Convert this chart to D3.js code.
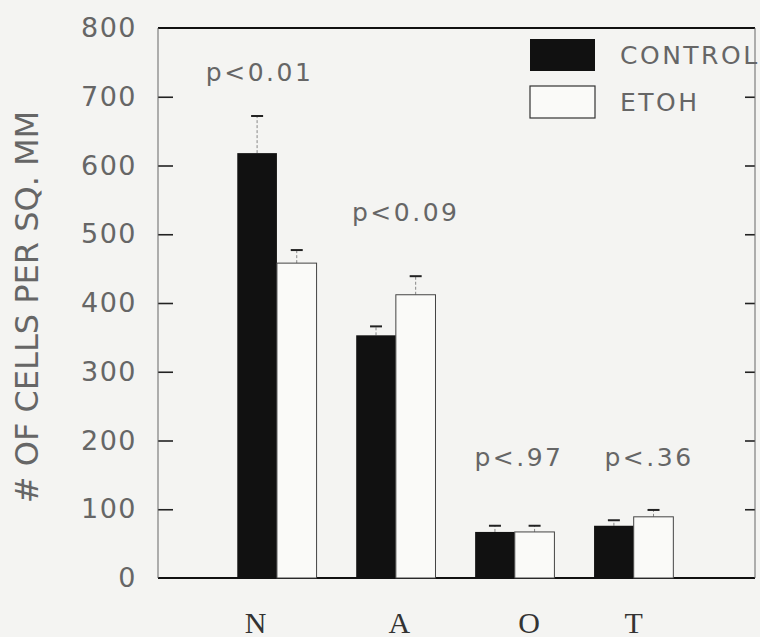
<!DOCTYPE html>
<html><head><meta charset="utf-8">
<script src="https://cdn.jsdelivr.net/npm/d3@7"></script>
<style>
html,body{margin:0;padding:0;background:#f4f4f2;}
svg{display:block;}
</style></head>
<body>
<svg id="chart" width="760" height="637"></svg>
<script>
const categories = ["N", "A", "O", "T"];
const controlValues = [618, 353, 67, 76];
const controlErrors = [54, 13, 9, 8];
const etohValues = [458, 412, 67, 89];
const etohErrors = [19, 27, 9, 10];
const pLabels = ["p<0.01", "p<0.09", "p<.97", "p<.36"];
const pLabelValues = [736, 531, 175, 175];
const yTicks = [0, 100, 200, 300, 400, 500, 600, 700, 800];
const seriesNames = ["CONTROL", "ETOH"];

(function () {
const svg = d3.select("#chart");
const mLeft = 158, mRight = 755, mTop = 28, mBottom = 578;
const x = d3.scaleLinear().domain([0, 5.02]).range([mLeft, mRight]);
const y = d3.scaleLinear().domain([0, 800]).range([mBottom, mTop]);
const barW = (x(1) - x(0)) / 3;
const textCol = "#666";
const sans = "'DejaVu Sans', 'Liberation Sans', sans-serif";

// y axis (left)
const yAxis = d3.axisLeft(y).tickValues(yTicks).tickSizeInner(-15).tickSizeOuter(0).tickPadding(21);
const gy = svg.append("g").attr("transform", `translate(${mLeft},0)`).call(yAxis);
gy.select(".domain").remove();
gy.selectAll(".tick line").attr("stroke", "#222").attr("stroke-width", 1.6)
  .filter(d => d === 0 || d === 800).remove();
gy.selectAll(".tick text").attr("font-family", sans).attr("font-size", 27)
  .attr("fill", textCol).attr("letter-spacing", "1.5px");

// right ticks
const yAxisR = d3.axisRight(y).tickValues(yTicks.filter(d => d > 0 && d < 800)).tickSizeInner(-10).tickSizeOuter(0).tickFormat("");
const gr = svg.append("g").attr("transform", `translate(${mRight},0)`).call(yAxisR);
gr.select(".domain").remove();
gr.selectAll(".tick line").attr("stroke", "#222").attr("stroke-width", 1.6);

// frame
svg.append("line").attr("x1", mLeft).attr("x2", mRight).attr("y1", mTop).attr("y2", mTop).attr("stroke", "#111").attr("stroke-width", 2);
svg.append("line").attr("x1", mLeft).attr("x2", mRight).attr("y1", mBottom).attr("y2", mBottom).attr("stroke", "#111").attr("stroke-width", 2);
svg.append("line").attr("x1", mLeft).attr("x2", mLeft).attr("y1", mTop).attr("y2", mBottom).attr("stroke", "#666").attr("stroke-width", 1);
svg.append("line").attr("x1", mRight).attr("x2", mRight).attr("y1", mTop).attr("y2", mBottom).attr("stroke", "#666").attr("stroke-width", 1);

// bars
const labelPos = [0.82, 2.03, 3.12, 4.0];
const groups = svg.append("g");
categories.forEach((c, i) => {
  const cx = x(i + 1);
  const series = [
    {v: controlValues[i], e: controlErrors[i], x0: cx - barW, dark: true},
    {v: etohValues[i], e: etohErrors[i], x0: cx, dark: false}
  ];
  series.forEach(s => {
    const xm = s.x0 + barW / 2;
    groups.append("line").attr("x1", xm).attr("x2", xm).attr("y1", y(s.v)).attr("y2", y(s.v + s.e))
      .attr("stroke", "#888").attr("stroke-width", 1).attr("stroke-dasharray", "3,2");
    groups.append("line").attr("x1", xm - 6).attr("x2", xm + 6).attr("y1", y(s.v + s.e)).attr("y2", y(s.v + s.e))
      .attr("stroke", "#222").attr("stroke-width", 2);
    groups.append("rect").attr("x", s.x0).attr("y", y(s.v)).attr("width", barW).attr("height", y(0) - y(s.v))
      .attr("fill", s.dark ? "#111" : "#fafaf8").attr("stroke", s.dark ? "none" : "#444").attr("stroke-width", 1);
  });
  svg.append("text").attr("x", x(labelPos[i])).attr("y", 622).attr("text-anchor", "middle").attr("dominant-baseline", "central")
    .attr("font-family", "'Liberation Serif', 'DejaVu Serif', serif").attr("font-weight", "normal")
    .attr("font-size", 30).attr("fill", "#333").text(c);
});

// p-value labels
const pX = [0.854, 2.083, 3.035, 4.129];
pLabels.forEach((t, i) => {
  svg.append("text").attr("x", x(pX[i])).attr("y", y(pLabelValues[i])).attr("text-anchor", "middle")
    .attr("dominant-baseline", "central").attr("font-family", sans).attr("font-size", 25)
    .attr("fill", textCol).attr("letter-spacing", "2.5px").text(t);
});

// legend
const legX = 530, legW = 65, legH = 32;
[0, 1].forEach(i => {
  const ly = 39 + i * 47;
  svg.append("rect").attr("x", legX).attr("y", ly).attr("width", legW).attr("height", legH)
    .attr("fill", i === 0 ? "#111" : "#fafaf8").attr("stroke", i === 0 ? "none" : "#333").attr("stroke-width", 1.2);
  svg.append("text").attr("x", 620).attr("y", ly + legH / 2).attr("dominant-baseline", "central")
    .attr("font-family", sans).attr("font-size", 25).attr("fill", textCol)
    .attr("letter-spacing", "2.5px").text(seriesNames[i]);
});

// y title
svg.append("text").attr("transform", `translate(38,307) rotate(-90)`)
  .attr("text-anchor", "middle")
  .attr("font-family", sans).attr("font-size", 32).attr("fill", textCol)
  .text("# OF CELLS PER SQ. MM");
})();
</script>
</body></html>
